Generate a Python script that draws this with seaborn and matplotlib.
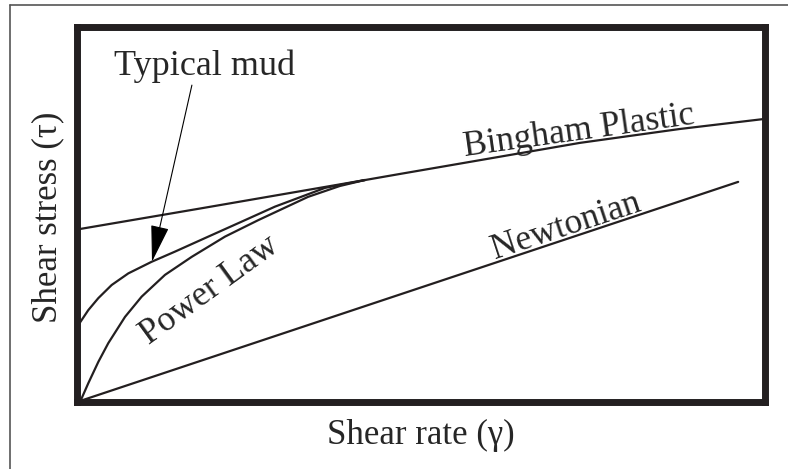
import matplotlib
matplotlib.use("Agg")
import matplotlib.pyplot as plt
from matplotlib.lines import Line2D
import pandas as pd
import seaborn as sns

# curve points (x = shear rate, y = shear stress, 0-100 scale)
bingham_x = [0, 17.9, 41.9, 46.9, 58.6, 73.1, 87.6, 100]
bingham_y = [46.0, 51.6, 59.2, 60.8, 64.5, 69.1, 72.8, 75.5]

mud_x = [0, 1.64, 3.10, 5.04, 7.46, 10.86, 14.24, 19.08, 23.94, 28.78, 36.05, 41.86]
mud_y = [20.0, 24.5, 27.7, 31.2, 34.3, 37.4, 40.1, 44.1, 48.1, 52.1, 57.1, 59.2]

power_x = [0, 0.68, 1.64, 3.10, 4.55, 6.98, 9.40, 12.79, 16.67, 21.51, 26.35, 33.58, 38.2, 41.86]
power_y = [0, 1.0, 5.0, 10.7, 15.7, 22.7, 28.1, 33.9, 38.7, 44.1, 48.5, 54.7, 57.6, 59.2]

newton_x = [0, 96.1]
newton_y = [0, 58.7]

mud_tip = (10.9, 37.4)
mud_tail = (16.7, 84.5)

sns.set_style("white")
plt.rcParams['font.family'] = ['Liberation Serif', 'DejaVu Serif']

fig = plt.figure(figsize=(7.88, 4.69), dpi=100)
ax = fig.add_axes([77 / 788, 67 / 469, 688 / 788, 375 / 469])

curves = [("Bingham Plastic", bingham_x, bingham_y),
          ("Typical mud", mud_x, mud_y),
          ("Power Law", power_x, power_y),
          ("Newtonian", newton_x, newton_y)]
for name, xs, ys in curves:
    df = pd.DataFrame({"x": xs, "y": ys})
    sns.lineplot(data=df, x="x", y="y", ax=ax, color="#231f20", lw=1.6,
                 sort=False, estimator=None)

ax.set_xlim(0, 100)
ax.set_ylim(0, 100)
ax.set_xticks([])
ax.set_yticks([])

for s in ax.spines.values():
    s.set_visible(True)
    s.set_linewidth(5.0)
    s.set_color("#231f20")
    s.set_capstyle("projecting")

fs = 25.5
ax.set_xlabel("Shear rate (\u03b3)", fontsize=25, va="center")
ax.xaxis.set_label_coords(0.5, -0.09)
ax.set_ylabel("Shear stress (\u03c4)", fontsize=25, va="center")
ax.yaxis.set_label_coords(-0.042, 0.493)

ax.text(56.4, 65.6, "Bingham Plastic", fontsize=fs, rotation=8,
        rotation_mode="anchor", ha="left", va="baseline")
ax.text(60.8, 38.2, "Newtonian", fontsize=fs, rotation=18.3,
        rotation_mode="anchor", ha="left", va="baseline")
ax.text(10.4, 15.2, "Power Law", fontsize=fs, rotation=36,
        rotation_mode="anchor", ha="left", va="baseline")
ax.text(18.6, 87.2, "Typical mud", fontsize=26, ha="center", va="baseline")

ax.annotate("", xy=mud_tip, xytext=mud_tail,
            arrowprops=dict(arrowstyle="-|>,head_length=0.65,head_width=0.16",
                            mutation_scale=36, lw=0.8, color="black",
                            shrinkA=0, shrinkB=0))

# thin page border (top and left only)
fig.add_artist(Line2D([10 / 788, 1], [1 - 5 / 469, 1 - 5 / 469],
                      transform=fig.transFigure, color="#555555", lw=1.2))
fig.add_artist(Line2D([10 / 788, 10 / 788], [0, 1 - 5 / 469],
                      transform=fig.transFigure, color="#555555", lw=1.2))

fig.savefig("out.png", dpi=100)
